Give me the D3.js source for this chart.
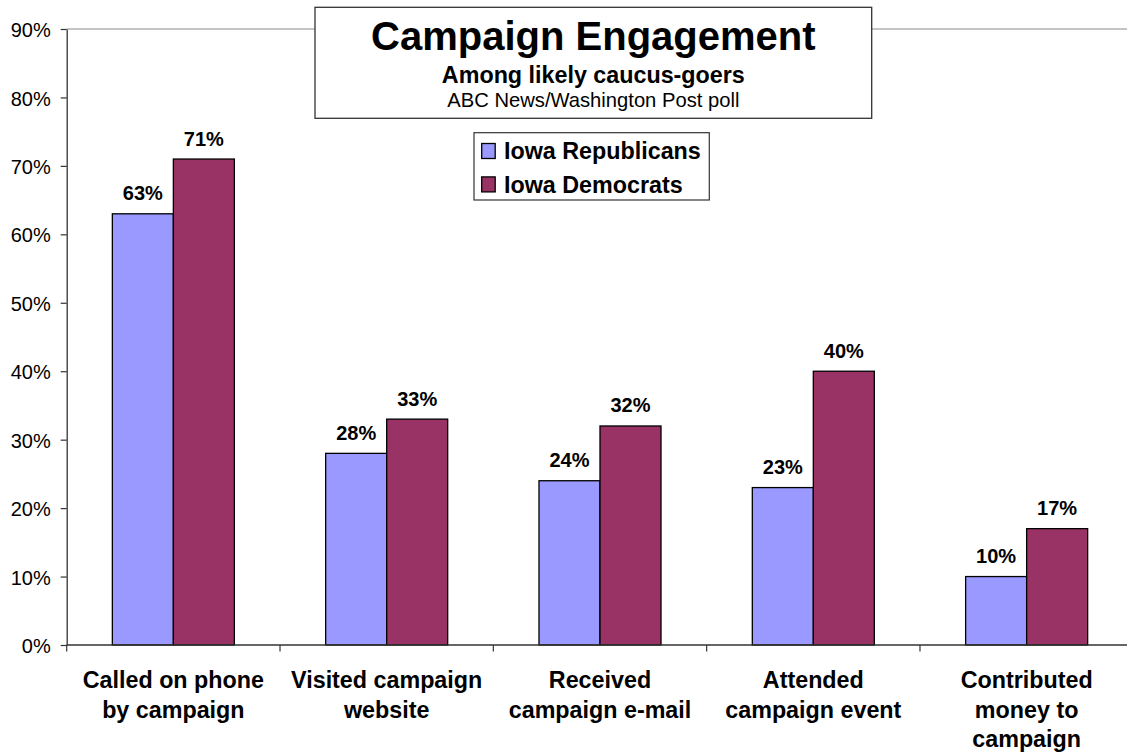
<!DOCTYPE html>
<html>
<head>
<meta charset="utf-8">
<script src="https://cdn.jsdelivr.net/npm/d3@7"></script>
<style>
  html, body { margin: 0; padding: 0; background: #fff; }
  svg { display: block; font-family: "Liberation Sans", Arial, sans-serif; }
</style>
</head>
<body>
<svg id="chart" width="1127" height="753"></svg>
<script>
// Survey items (line breaks mark how each axis label wraps)
const categories = [
  "Called on phone\nby campaign",
  "Visited campaign\nwebsite",
  "Received\ncampaign e-mail",
  "Attended\ncampaign event",
  "Contributed\nmoney to\ncampaign"
];
const seriesNames = ["Iowa Republicans", "Iowa Democrats"];
const republicans = [63, 28, 24, 23, 10];
const democrats = [71, 33, 32, 40, 17];
const yTicks = [0, 10, 20, 30, 40, 50, 60, 70, 80, 90];
const titleText = "Campaign Engagement";
const subtitleText = "Among likely caucus-goers";
const sourceText = "ABC News/Washington Post poll";

const colors = ["#9999FF", "#993366"];
const seriesValues = [republicans, democrats];

const svg = d3.select("#chart");
const W = 1127, H = 753;

// Plot area (right edge runs past the visible canvas)
const plot = { left: 66.7, right: 1133.3, top: 29, bottom: 645 };

const x = d3.scaleBand()
  .domain(categories)
  .range([plot.left, plot.right])
  .paddingInner(0.428)
  .paddingOuter(0.214);

const xs = d3.scaleBand()
  .domain(seriesNames)
  .range([0, x.bandwidth()])
  .padding(0);

const y = d3.scaleLinear()
  .domain([0, 90])
  .range([plot.bottom, plot.top]);

// Top border of the plot area
svg.append("line")
  .attr("x1", plot.left).attr("x2", plot.right)
  .attr("y1", y(90)).attr("y2", y(90))
  .attr("stroke", "#8a8a8a").attr("stroke-width", 1.2);

// Bars
const groups = svg.append("g").selectAll("g")
  .data(categories)
  .join("g")
  .attr("transform", d => `translate(${x(d)},0)`);

groups.selectAll("rect")
  .data((d, i) => seriesNames.map((s, k) => ({ s, k, v: seriesValues[k][i] })))
  .join("rect")
  .attr("x", d => xs(d.s))
  .attr("width", xs.bandwidth())
  .attr("y", d => y(d.v))
  .attr("height", d => y(0) - y(d.v))
  .attr("fill", d => colors[d.k])
  .attr("stroke", "#000")
  .attr("stroke-width", 1.3);

// Value labels above bars
groups.selectAll("text.val")
  .data((d, i) => seriesNames.map((s, k) => ({ s, k, v: seriesValues[k][i] })))
  .join("text")
  .attr("class", "val")
  .attr("x", d => xs(d.s) + xs.bandwidth() / 2)
  .attr("y", d => y(d.v) - 13.5)
  .attr("text-anchor", "middle")
  .attr("font-size", 20)
  .attr("font-weight", "bold")
  .attr("fill", "#000")
  .text(d => d.v + "%");

// Y axis
const yAxis = svg.append("g")
  .attr("transform", `translate(${plot.left},0)`)
  .call(d3.axisLeft(y)
    .tickValues(yTicks)
    .tickFormat(d => d + "%")
    .tickSize(6)
    .tickSizeOuter(0)
    .tickPadding(10));
yAxis.select(".domain").attr("stroke", "#333").attr("stroke-width", 1.3);
yAxis.selectAll(".tick line").attr("stroke", "#333").attr("stroke-width", 1.2);
yAxis.selectAll(".tick text")
  .attr("font-size", 20)
  .attr("font-family", "'Liberation Sans', Arial, sans-serif")
  .attr("fill", "#000")
  .attr("dy", "0.38em");

// X axis: baseline with ticks at category boundaries
const step = x.step();
const boundaries = categories.map(c => x(c) - (step - x.bandwidth()) / 2);
boundaries.push(boundaries[boundaries.length - 1] + step);

svg.append("line")
  .attr("x1", plot.left).attr("x2", plot.right)
  .attr("y1", y(0)).attr("y2", y(0))
  .attr("stroke", "#333").attr("stroke-width", 1.3);

svg.append("g").selectAll("line")
  .data(boundaries)
  .join("line")
  .attr("x1", d => d).attr("x2", d => d)
  .attr("y1", y(0)).attr("y2", y(0) + 6.5)
  .attr("stroke", "#333").attr("stroke-width", 1.2);

// Category labels
const catLabels = svg.append("g").selectAll("text")
  .data(categories)
  .join("text")
  .attr("x", d => x(d) + x.bandwidth() / 2)
  .attr("y", 688.3)
  .attr("text-anchor", "middle")
  .attr("font-size", 23.3)
  .attr("font-weight", "bold")
  .attr("fill", "#000");
catLabels.each(function(d) {
  const t = d3.select(this);
  d.split("\n").forEach((line, i) => {
    t.append("tspan")
      .attr("x", x(d) + x.bandwidth() / 2)
      .attr("dy", i === 0 ? 0 : 29.2)
      .text(line);
  });
});

// Title box
const tb = { x: 315, y: 7.3, w: 556.7, h: 111 };
svg.append("rect")
  .attr("x", tb.x).attr("y", tb.y)
  .attr("width", tb.w).attr("height", tb.h)
  .attr("fill", "#fff").attr("stroke", "#333").attr("stroke-width", 1.3);
const tcx = tb.x + tb.w / 2;
svg.append("text")
  .attr("x", tcx).attr("y", 50)
  .attr("text-anchor", "middle")
  .attr("font-size", 40).attr("font-weight", "bold")
  .text(titleText);
svg.append("text")
  .attr("x", tcx).attr("y", 83.3)
  .attr("text-anchor", "middle")
  .attr("font-size", 23.3).attr("font-weight", "bold")
  .text(subtitleText);
svg.append("text")
  .attr("x", tcx).attr("y", 106.7)
  .attr("text-anchor", "middle")
  .attr("font-size", 20.2)
  .text(sourceText);

// Legend
const lg = { x: 474, y: 132.7, w: 235.3, h: 67.3 };
svg.append("rect")
  .attr("x", lg.x).attr("y", lg.y)
  .attr("width", lg.w).attr("height", lg.h)
  .attr("fill", "#fff").attr("stroke", "#333").attr("stroke-width", 1.2);
const items = svg.append("g").selectAll("g")
  .data(seriesNames)
  .join("g")
  .attr("transform", (d, i) => `translate(${lg.x},${lg.y + i * 33.4})`);
items.append("rect")
  .attr("x", 7.7).attr("y", 10.8)
  .attr("width", 13.5).attr("height", 15)
  .attr("fill", (d, i) => colors[i])
  .attr("stroke", "#000").attr("stroke-width", 1.3);
items.append("text")
  .attr("x", 30).attr("y", 26.6)
  .attr("font-size", 23.3).attr("font-weight", "bold")
  .text(d => d);
</script>
</body>
</html>
